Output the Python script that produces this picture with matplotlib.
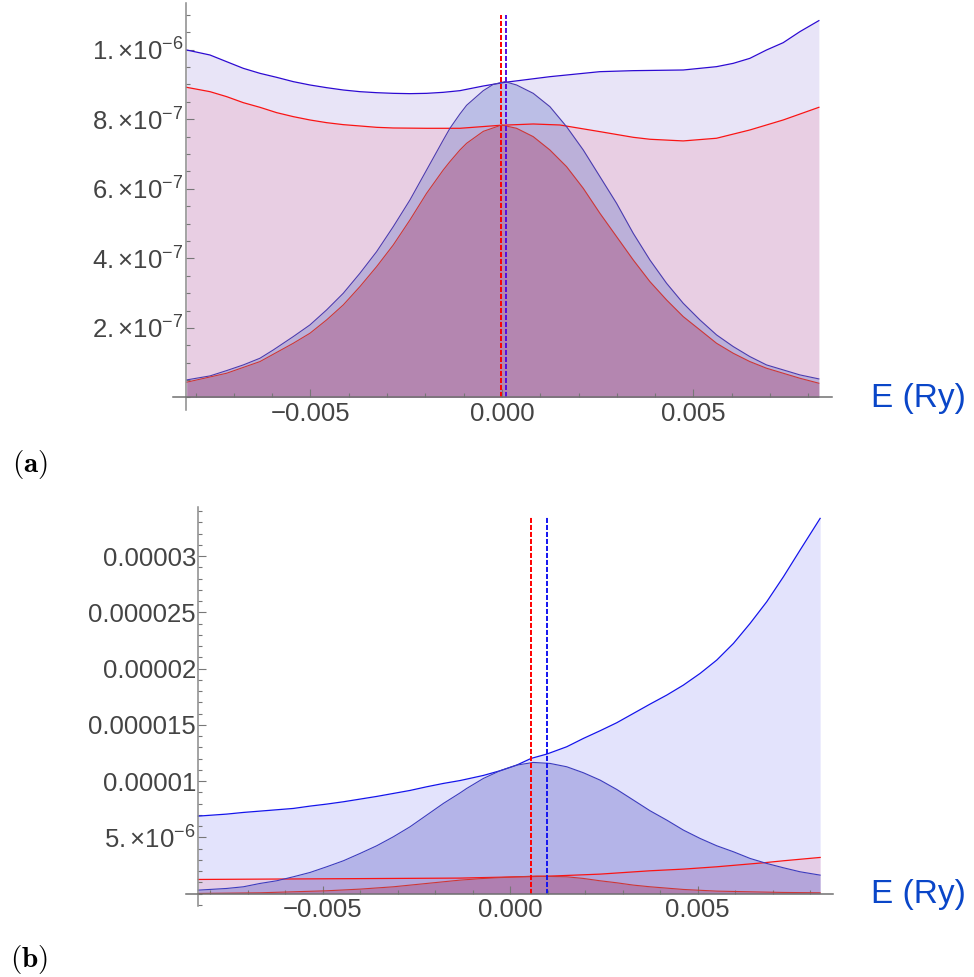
import numpy as np
import matplotlib.pyplot as plt
from matplotlib.ticker import MultipleLocator

plt.rcParams['font.family'] = ['Liberation Sans', 'DejaVu Sans']
plt.rcParams['mathtext.fontset'] = 'custom'
plt.rcParams['mathtext.rm'] = 'Liberation Sans'
plt.rcParams['mathtext.it'] = 'Liberation Sans:italic'
plt.rcParams['mathtext.bf'] = 'Liberation Sans:bold'

# panel (a): energies in 1e-3 Ry, spectral values in 1e-7
a_upper_blue_E = [-8.233, -7.624, -7.189, -6.754, -6.319, -5.883, -5.448, -5.013, -4.578, -4.143, -3.708, -3.272,
                  -2.837, -2.402, -1.967, -1.532, -1.097, -0.487, 0.078, 1.253, 2.559, 3.429, 4.734, 5.605, 6.040,
                  6.475, 6.910, 7.345, 7.781, 8.277]
a_upper_blue = [9.989, 9.845, 9.653, 9.462, 9.318, 9.203, 9.079, 8.983, 8.906, 8.839, 8.791, 8.762,
                8.743, 8.734, 8.743, 8.772, 8.820, 8.954, 9.059, 9.222, 9.366, 9.395, 9.414, 9.510, 9.605,
                9.749, 9.989, 10.199, 10.516, 10.833]
a_upper_red_E = [-8.233, -7.624, -7.189, -6.754, -6.319, -5.883, -5.448, -5.013, -4.578, -4.143, -3.708, -3.272,
                 -2.837, -1.967, -1.097, -0.052, 0.818, 1.514, 2.559, 3.429, 3.864, 4.734, 5.605, 6.475, 7.345, 8.277]
a_upper_red = [8.916, 8.791, 8.648, 8.475, 8.341, 8.188, 8.073, 7.977, 7.900, 7.843, 7.805, 7.766,
               7.747, 7.738, 7.738, 7.824, 7.862, 7.833, 7.642, 7.479, 7.423, 7.375, 7.452, 7.690, 7.977, 8.341]
a_peak_blue_E = [-8.233, -7.624, -7.189, -6.754, -6.319, -5.970, -5.448, -5.013, -4.578, -4.143, -3.708, -3.272,
                 -2.837, -2.402, -1.967, -1.532, -1.358, -1.097, -0.922, -0.487, -0.226, 0.078, 0.383, 0.818,
                 1.253, 1.688, 2.124, 2.559, 2.994, 3.429, 3.864, 4.299, 4.734, 5.170, 5.605, 6.040, 6.475,
                 6.910, 7.345, 7.781, 8.277]
a_peak_blue = [0.505, 0.620, 0.773, 0.936, 1.128, 1.367, 1.751, 2.086, 2.517, 2.996, 3.571, 4.193,
               4.912, 5.678, 6.540, 7.402, 7.738, 8.15, 8.40, 8.82, 9.00, 9.079, 8.983, 8.743,
               8.360, 7.785, 7.115, 6.349, 5.582, 4.720, 3.954, 3.284, 2.709, 2.230, 1.799, 1.464, 1.176,
               0.936, 0.793, 0.649, 0.534]
a_peak_red_E = [-8.233, -7.189, -6.319, -5.448, -5.013, -4.578, -4.143, -3.708, -3.272, -2.837, -2.402, -1.967,
                -1.532, -1.358, -1.097, -0.922, -0.487, -0.009, 0.383, 0.818, 1.253, 1.688, 2.124, 2.559, 2.994,
                3.429, 3.864, 4.299, 4.734, 5.170, 5.605, 6.040, 6.475, 6.910, 7.345, 7.781, 8.277]
a_peak_red = [0.439, 0.697, 1.032, 1.559, 1.847, 2.230, 2.661, 3.188, 3.762, 4.385, 5.103, 5.870,
              6.540, 6.780, 7.115, 7.307, 7.65, 7.833, 7.738, 7.498, 7.115, 6.636, 6.013, 5.295, 4.625,
              3.954, 3.332, 2.805, 2.326, 1.943, 1.559, 1.272, 1.032, 0.841, 0.697, 0.553, 0.410]
a_mark_red, a_mark_blue, a_mark_top = -0.03, 0.10, 11.0

# panel (b): energies in 1e-3 Ry, spectral values in 1e-6
b_upper_blue_E = [-8.311, -7.556, -7.111, -6.667, -6.222, -5.778, -5.333, -4.889, -4.444, -4.0, -3.556, -3.111,
                  -2.667, -2.222, -1.778, -1.333, -1.156, -0.711, -0.267, 0.178, 0.56, 0.978, 1.511, 1.956,
                  2.4, 2.844, 3.289, 3.733, 4.178, 4.622, 5.067, 5.511, 5.956, 6.4, 6.844, 7.289, 7.733, 8.267]
b_upper_blue = [6.889, 7.067, 7.215, 7.333, 7.452, 7.570, 7.778, 7.956, 8.163, 8.400, 8.637, 8.904,
                9.170, 9.496, 9.793, 10.05, 10.178, 10.504, 10.919, 11.422, 12.015, 12.40, 13.052, 13.793,
                14.474, 15.185, 16.015, 16.844, 17.644, 18.533, 19.570, 20.756, 22.237, 24.015, 25.941,
                28.163, 30.533, 33.348]
b_upper_red_E = [-8.311, -4.889, -1.333, 1.067, 2.4, 3.733, 4.622, 5.511, 6.756, 7.289, 8.267]
b_upper_red = [1.259, 1.319, 1.38, 1.556, 1.733, 2.030, 2.178, 2.385, 2.741, 2.919, 3.215]
b_peak_blue_E = [-8.311, -7.556, -7.111, -6.667, -6.222, -5.778, -5.333, -4.889, -4.444, -4.0, -3.556, -3.111,
                 -2.667, -2.222, -1.778, -1.333, -1.156, -0.711, -0.267, 0.178, 0.622, 1.067, 1.511, 1.956,
                 2.4, 2.844, 3.289, 3.733, 4.178, 4.622, 5.067, 5.511, 5.956, 6.4, 6.844, 7.289, 7.733, 8.267]
b_peak_blue = [0.311, 0.459, 0.607, 0.904, 1.141, 1.496, 1.881, 2.385, 2.919, 3.570, 4.252, 5.052,
               5.941, 6.978, 8.015, 8.95, 9.348, 10.237, 10.919, 11.422, 11.659, 11.570, 11.274, 10.741,
               10.089, 9.259, 8.311, 7.363, 6.533, 5.644, 4.904, 4.252, 3.719, 3.126, 2.681, 2.296, 1.941,
               1.644]
b_peak_red_E = [-8.311, -6.667, -4.889, -4.0, -3.111, -2.222, -1.333, -0.711, 0.178, 0.711, 1.511, 1.956,
                2.4, 2.844, 3.289, 3.733, 4.622, 5.511, 6.4, 7.289, 8.267]
b_peak_red = [0.015, 0.074, 0.252, 0.4, 0.607, 0.904, 1.2, 1.348, 1.496, 1.556, 1.496, 1.348,
              1.141, 0.963, 0.756, 0.607, 0.370, 0.222, 0.163, 0.104, 0.074]
b_mark_red, b_mark_blue, b_mark_top = 0.56, 0.98, 33.5

a_yticks = [2e-7, 4e-7, 6e-7, 8e-7, 1e-6]
a_ylabels = [r'$2.{\times}10^{-7}$', r'$4.{\times}10^{-7}$', r'$6.{\times}10^{-7}$',
             r'$8.{\times}10^{-7}$', r'$1.{\times}10^{-6}$']
b_yticks = [5e-6, 1e-5, 1.5e-5, 2e-5, 2.5e-5, 3e-5]
b_ylabels = [r'$5.{\times}10^{-6}$', '0.00001', '0.000015', '0.00002', '0.000025', '0.00003']
xticks = [-0.005, 0.0, 0.005]
xlabels = ['\u22120.005', '0.000', '0.005']


def c(r, g, b):
    return (r / 255, g / 255, b / 255)


def draw_panel(ax, sx, sy, curves, marks, colors):
    (ub_E, ub), (ur_E, ur), (pb_E, pb), (pr_E, pr) = curves
    ub_E, ur_E, pb_E, pr_E = [np.array(v) * sx for v in (ub_E, ur_E, pb_E, pr_E)]
    ub, ur, pb, pr = [np.array(v) * sy for v in (ub, ur, pb, pr)]
    ax.fill_between(ub_E, ub, 0, color=colors['ub_fill'], alpha=0.15, lw=0)
    ax.fill_between(ur_E, ur, 0, color=c(237, 118, 147), alpha=0.2, lw=0)
    ax.fill_between(pb_E, pb, 0, color=colors['pb_fill'], alpha=0.35, lw=0)
    ax.fill_between(pr_E, pr, 0, color=c(168, 56, 101), alpha=0.35, lw=0)
    ax.plot(ub_E, ub, color=colors['ub_line'], lw=0.9)
    ax.plot(ur_E, ur, color=c(250, 20, 20), lw=0.9)
    ax.plot(pb_E, pb, color=colors['pb_line'], lw=0.8)
    ax.plot(pr_E, pr, color=c(205, 55, 55), lw=0.8)
    red_x, blue_x, top = marks
    ax.plot([red_x * sx] * 2, [0, top * sy], color=c(255, 0, 0), lw=1.4, ls=(0, (2.6, 1.0)))
    ax.plot([blue_x * sx] * 2, [0, top * sy], color=colors['mark'], lw=1.4, ls=(0, (2.6, 1.0)))


def style_axes(ax, x_axis, xlim, ylim, yticks, ylabels, yminor):
    ax.set_xlim(*xlim)
    ax.set_ylim(*ylim)
    for s in ('top', 'right'):
        ax.spines[s].set_visible(False)
    ax.spines['left'].set_position(('data', x_axis))
    ax.spines['bottom'].set_position(('data', 0))
    ax.spines['left'].set_color('#8a8a8a')
    ax.spines['bottom'].set_color('#707070')
    ax.spines['left'].set_linewidth(1.1)
    ax.spines['bottom'].set_linewidth(1.1)
    ax.set_xticks(xticks, labels=xlabels)
    ax.set_yticks(yticks, labels=ylabels)
    ax.xaxis.set_minor_locator(MultipleLocator(0.001))
    ax.yaxis.set_minor_locator(MultipleLocator(yminor))
    ax.tick_params(which='both', direction='in', color='#777777', width=0.8,
                   labelcolor='#444444', labelsize=18.5)
    ax.tick_params(which='major', length=5.8)
    ax.tick_params(which='minor', length=2.6)
    ax.tick_params(axis='x', pad=3)
    ax.tick_params(axis='y', pad=1.5)
    ax.patch.set_alpha(0)


fig = plt.figure(figsize=(9.74, 9.77), dpi=100)
ax_a = fig.add_axes([173 / 974, 1 - 410 / 977, 659 / 974, 407 / 977])
ax_b = fig.add_axes([186 / 974, 1 - 906 / 977, 647 / 974, 399 / 977])

draw_panel(ax_a, 1e-3, 1e-7,
           [(a_upper_blue_E, a_upper_blue), (a_upper_red_E, a_upper_red),
            (a_peak_blue_E, a_peak_blue), (a_peak_red_E, a_peak_red)],
           (a_mark_red, a_mark_blue, a_mark_top),
           dict(ub_fill=c(102, 75, 202), ub_line=c(45, 10, 210),
                pb_fill=c(104, 120, 201), pb_line=c(75, 60, 175), mark=c(85, 10, 225)))
draw_panel(ax_b, 1e-3, 1e-6,
           [(b_upper_blue_E, b_upper_blue), (b_upper_red_E, b_upper_red),
            (b_peak_blue_E, b_peak_blue), (b_peak_red_E, b_peak_red)],
           (b_mark_red, b_mark_blue, b_mark_top),
           dict(ub_fill=c(68, 68, 235), ub_line=c(20, 20, 235),
                pb_fill=c(93, 93, 195), pb_line=c(60, 60, 190), mark=c(20, 20, 240)))

style_axes(ax_a, -0.00826, (-0.00859, 0.00862), (-0.36e-7, 11.34e-7), a_yticks, a_ylabels, 0.5e-7)
style_axes(ax_b, -0.00832, (-0.00864, 0.00861), (-1.1e-6, 34.36e-6), b_yticks, b_ylabels, 1e-6)

for y in (407, 903):
    fig.text(871 / 974, 1 - y / 977, 'E (Ry)', color=c(10, 70, 200), fontsize=24, va='baseline')

fig.text(12 / 974, 1 - 472 / 977, r'$\mathbf{(a)}$', math_fontfamily='cm', fontsize=21, va='baseline')
fig.text(10 / 974, 1 - 967 / 977, r'$\mathbf{(b)}$', math_fontfamily='cm', fontsize=21, va='baseline')

fig.savefig('out.png', dpi=100)
